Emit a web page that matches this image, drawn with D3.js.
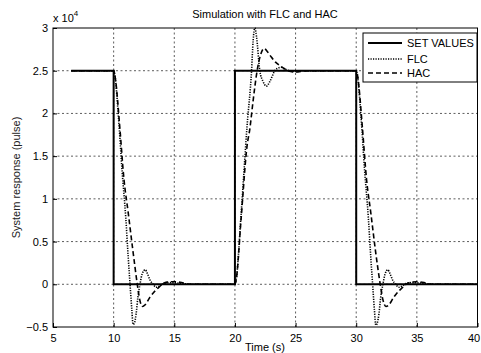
<!DOCTYPE html>
<html>
<head>
<meta charset="utf-8">
<script src="https://cdn.jsdelivr.net/npm/d3@7"></script>
<style>
  body { margin: 0; background: #fff; }
  svg { display: block; font-family: "Liberation Sans", Arial, sans-serif; }
</style>
</head>
<body>
<svg id="chart" width="481" height="353"></svg>
<script>
// values are in units of 1e4 pulses
const xTicks = [5, 10, 15, 20, 25, 30, 35, 40];
const yTicks = [-0.5, 0, 0.5, 1, 1.5, 2, 2.5, 3];

const setTime = [6.5, 10, 10, 20, 20, 30, 30, 40];
const setValue = [2.5, 2.5, 0, 0, 2.5, 2.5, 0, 0];

const flcTime = [6.5, 10.0, 10.1, 10.4, 10.7, 11.0, 11.2, 11.4, 11.5, 11.6, 11.7, 11.85, 12.0, 12.17, 12.35, 12.6, 12.8, 13.0, 13.25, 13.5, 13.8, 14.1, 14.6, 15.3, 16.0, 16.5,
  20.0, 20.1, 20.5, 21.0, 21.37, 21.5, 21.64, 21.78, 22.05, 22.3, 22.6, 22.9, 23.29, 23.55, 23.8, 24.1, 24.5, 25.0, 25.6,
  30.0, 30.1, 30.4, 30.7, 31.0, 31.2, 31.4, 31.5, 31.62, 31.72, 31.87, 32.02, 32.2, 32.38, 32.6, 32.8, 33.0, 33.25, 33.5, 33.8, 34.1, 34.6, 35.3, 36.0, 36.5, 40];
const flcValue = [2.5, 2.5, 2.45, 1.95, 1.32, 0.78, 0.32, -0.1, -0.3, -0.47, -0.46, -0.35, -0.15, 0.0, 0.12, 0.17, 0.12, 0.05, 0.0, -0.035, -0.02, 0.01, 0.02, 0.015, 0.005, 0,
  0, 0.05, 0.8, 1.85, 2.5, 2.85, 3.0, 2.9, 2.5, 2.38, 2.32, 2.38, 2.5, 2.53, 2.54, 2.52, 2.5, 2.49, 2.5,
  2.5, 2.45, 1.95, 1.32, 0.78, 0.32, -0.1, -0.3, -0.48, -0.46, -0.35, -0.15, 0.0, 0.12, 0.17, 0.12, 0.05, 0.0, -0.035, -0.02, 0.01, 0.02, 0.015, 0.005, 0, 0];

const hacTime = [6.5, 10.0, 10.15, 10.5, 10.85, 11.2, 11.6, 11.95, 12.15, 12.38, 12.6, 13.0, 13.4, 13.7, 14.0, 14.4, 15.0, 15.6, 16.2,
  20.0, 20.1, 20.5, 21.0, 21.23, 21.5, 21.83, 22.1, 22.4, 22.7, 23.0, 23.35, 23.7, 24.0, 24.25, 24.6, 24.9, 25.4, 26.0,
  30.0, 30.15, 30.5, 30.85, 31.2, 31.6, 31.98, 32.2, 32.45, 32.7, 33.1, 33.5, 33.8, 34.1, 34.5, 35.0, 35.6, 36.2, 40];
const hacValue = [2.5, 2.5, 2.4, 1.85, 1.23, 0.84, 0.38, 0.0, -0.18, -0.26, -0.24, -0.15, -0.08, -0.04, 0.0, 0.025, 0.03, 0.02, 0.0,
  0, 0.05, 0.75, 1.62, 1.82, 2.15, 2.5, 2.68, 2.76, 2.72, 2.66, 2.6, 2.56, 2.53, 2.51, 2.49, 2.485, 2.49, 2.5,
  2.5, 2.4, 1.85, 1.23, 0.84, 0.38, 0.0, -0.18, -0.26, -0.24, -0.15, -0.08, -0.04, 0.0, 0.025, 0.03, 0.02, 0.0, 0];

const legendLabels = ['SET VALUES', 'FLC', 'HAC'];

const margin = { top: 28, right: 3.5, bottom: 26, left: 53 };
const width = 481, height = 353;
const svg = d3.select('#chart');

const x = d3.scaleLinear().domain([5, 40]).range([margin.left, width - margin.right]);
const y = d3.scaleLinear().domain([-0.5, 3]).range([height - margin.bottom, margin.top]);

svg.append('defs').append('clipPath').attr('id', 'plotclip')
  .append('rect')
  .attr('x', x(5)).attr('y', y(3) - 1)
  .attr('width', x(40) - x(5)).attr('height', y(-0.5) - y(3) + 2);

// grid
const grid = svg.append('g').attr('stroke', '#333').attr('stroke-width', 0.8).attr('stroke-dasharray', '2,2.5');
grid.selectAll('.gx').data(xTicks.slice(1, -1)).enter().append('line')
  .attr('x1', d => x(d)).attr('x2', d => x(d))
  .attr('y1', y(3)).attr('y2', y(-0.5));
grid.selectAll('.gy').data(yTicks.slice(1, -1)).enter().append('line')
  .attr('x1', x(5)).attr('x2', x(40))
  .attr('y1', d => y(d)).attr('y2', d => y(d));

// axes
const xAxis = svg.append('g')
  .attr('transform', `translate(0,${y(-0.5)})`)
  .call(d3.axisBottom(x).tickValues(xTicks).tickSize(-4).tickPadding(7).tickFormat(d3.format('d')));
const yAxis = svg.append('g')
  .attr('transform', `translate(${x(5)},0)`)
  .call(d3.axisLeft(y).tickValues(yTicks).tickSize(-4).tickPadding(5).tickFormat(d => d3.format('')(d)));
[xAxis, yAxis].forEach(a => {
  a.select('.domain').remove();
  a.selectAll('text').attr('font-size', 11).attr('fill', '#000').attr('font-family', '"Liberation Sans", Arial, sans-serif');
  a.selectAll('line').attr('stroke', '#000');
});
// last x label sits at the window edge, nudge it in
xAxis.selectAll('.tick').filter(d => d === 40).select('text').attr('dx', -4);

// frame
svg.append('rect')
  .attr('x', x(5)).attr('y', y(3))
  .attr('width', x(40) - x(5)).attr('height', y(-0.5) - y(3))
  .attr('fill', 'none').attr('stroke', '#000').attr('stroke-width', 1);

const line = d3.line().x(d => x(d[0])).y(d => y(d[1]));
const smooth = d3.line().x(d => x(d[0])).y(d => y(d[1])).curve(d3.curveMonotoneX);

const plot = svg.append('g').attr('clip-path', 'url(#plotclip)');

plot.append('path')
  .datum(setTime.map((t, i) => [t, setValue[i]]))
  .attr('d', line)
  .attr('fill', 'none').attr('stroke', '#000').attr('stroke-width', 2);

plot.append('path')
  .datum(flcTime.map((t, i) => [t, flcValue[i]]))
  .attr('d', smooth)
  .attr('fill', 'none').attr('stroke', '#000').attr('stroke-width', 1.6)
  .attr('stroke-dasharray', '1.2,1.3');

plot.append('path')
  .datum(hacTime.map((t, i) => [t, hacValue[i]]))
  .attr('d', smooth)
  .attr('fill', 'none').attr('stroke', '#000').attr('stroke-width', 1.6)
  .attr('stroke-dasharray', '5,3');

// legend
const lg = svg.append('g').attr('transform', 'translate(363,33)');
lg.append('rect').attr('width', 114).attr('height', 49)
  .attr('fill', '#fff').attr('stroke', '#000').attr('stroke-width', 1);
const styles = [
  { w: 2, dash: null },
  { w: 1.6, dash: '1.2,1.3' },
  { w: 1.6, dash: '5,3' }
];
const rowY = [10, 26, 40];
legendLabels.forEach((lab, i) => {
  lg.append('line')
    .attr('x1', 5).attr('x2', 39)
    .attr('y1', rowY[i]).attr('y2', rowY[i])
    .attr('stroke', '#000').attr('stroke-width', styles[i].w)
    .attr('stroke-dasharray', styles[i].dash);
  lg.append('text')
    .attr('x', 44).attr('y', rowY[i] + 4)
    .attr('font-size', 11).text(lab);
});

// titles
svg.append('text')
  .attr('x', 265).attr('y', 18)
  .attr('text-anchor', 'middle').attr('font-size', 11)
  .text('Simulation with FLC and HAC');

svg.append('text')
  .attr('x', 265).attr('y', 351)
  .attr('text-anchor', 'middle').attr('font-size', 11)
  .text('Time (s)');

svg.append('text')
  .attr('transform', `translate(20,${(y(3) + y(-0.5)) / 2}) rotate(-90)`)
  .attr('text-anchor', 'middle').attr('font-size', 11).attr('fill', '#222')
  .text('System response (pulse)');

const exp = svg.append('text').attr('x', 53).attr('y', 22).attr('font-size', 11);
exp.append('tspan').text('x 10');
exp.append('tspan').attr('dy', -6).attr('font-size', 8).text('4');
</script>
</body>
</html>
